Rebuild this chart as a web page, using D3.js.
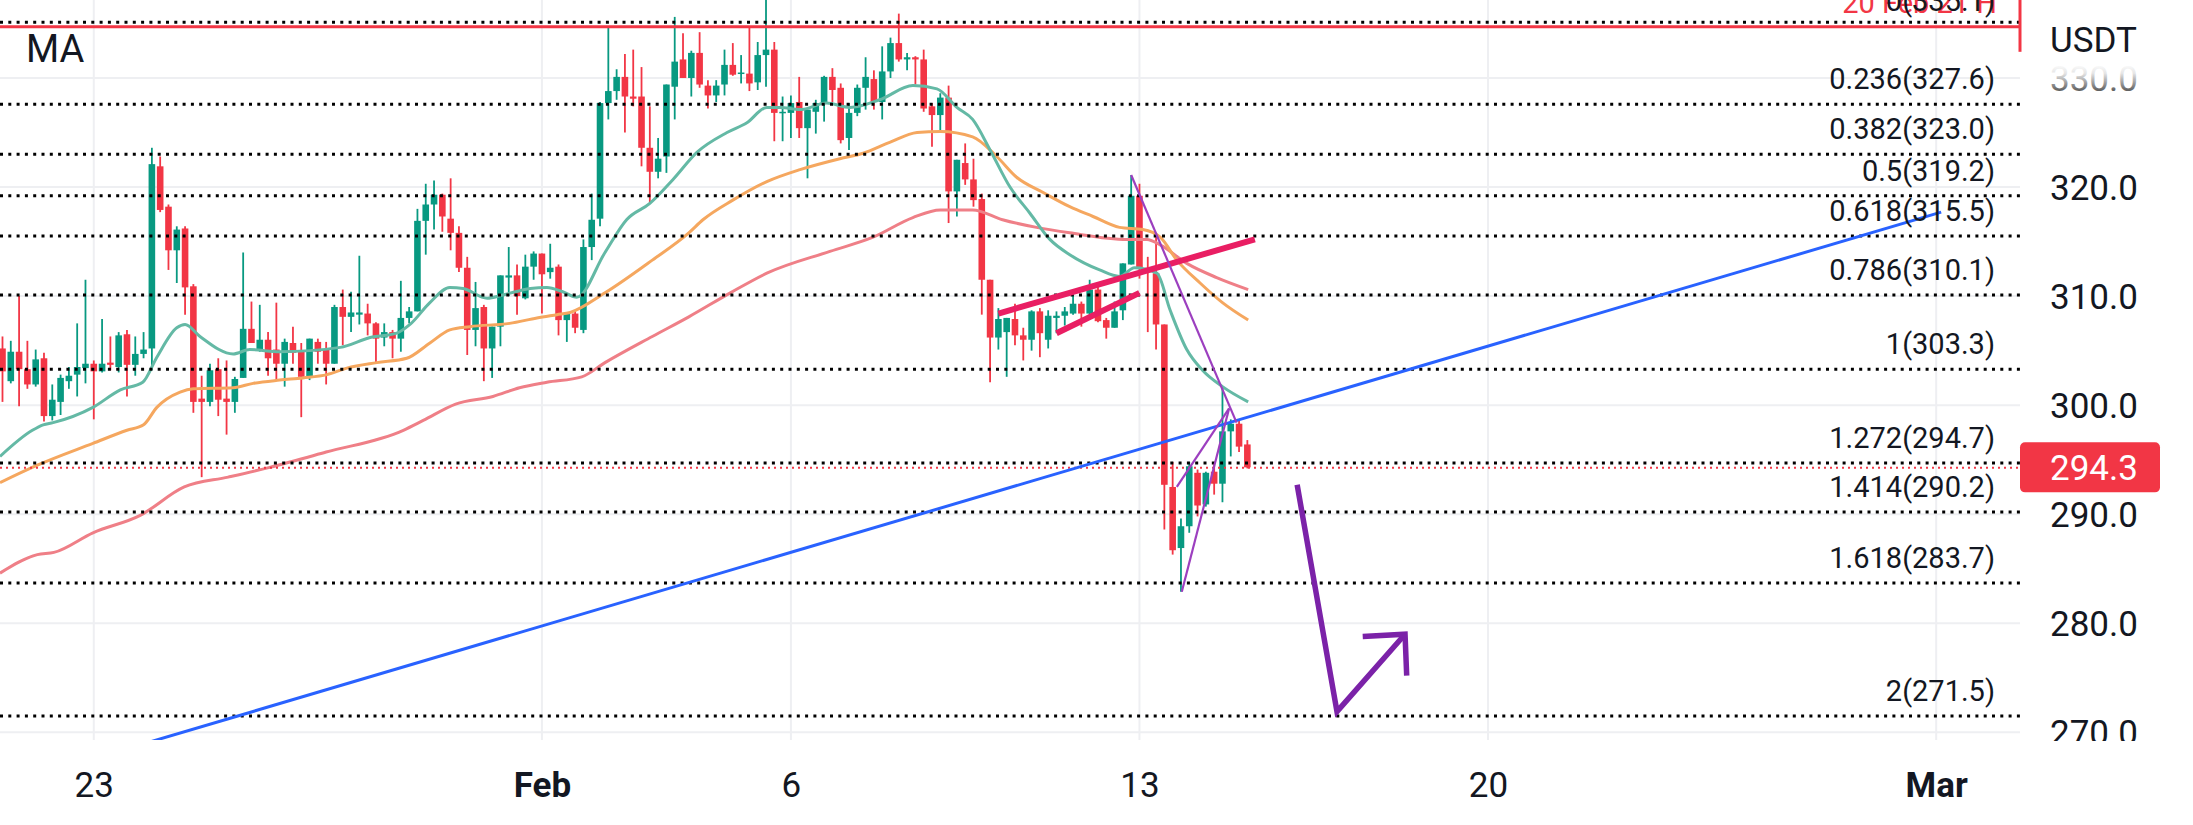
<!DOCTYPE html>
<meta charset="utf-8">
<style>
body { margin: 0; background: #fff; }
svg { display: block; font-family: Roboto, "Noto Sans", sans-serif; }
</style>
<svg id="chart" width="2193" height="825"></svg>
<script src="https://cdn.jsdelivr.net/npm/d3@7/dist/d3.min.js"></script>
<script>

// 4h candles, bar index 0 = 1 Feb 2023 00:00 UTC, first candle is bar -65
var firstBar = -65;
var opens  = [305.2,302.2,304.9,303.3,301.9,304.3,299.0,300.3,302.2,302.8,303.4,303.8,303.1,303.9,303.5,306.5,303.7,304.7,305.2,321.9,318.2,314.2,316.2,310.9,300.6,300.3,303.3,300.6,300.3,302.5,307.0,305.1,306.0,305.1,303.8,305.7,304.9,302.6,305.8,305.1,303.8,309.0,308.1,308.3,308.4,307.5,306.2,306.7,306.1,308.0,308.6,316.9,318.4,319.3,317.1,315.8,312.6,306.9,309.0,305.2,307.2,311.7,311.9,309.8,312.7,
              313.9,312.2,312.7,307.8,308.4,306.9,314.5,317.1,327.7,328.8,330.1,328.3,328.3,323.6,321.4,322.8,329.2,331.7,330.0,332.3,329.3,328.4,329.4,331.2,330.4,330.4,329.6,332.1,332.6,326.8,326.8,327.8,325.4,326.9,327.7,330.1,
              329.1,324.5,326.8,329.1,329.9,327.8,330.6,333.2,331.7,331.9,331.7,327.4,326.6,328.2,319.6,322.2,320.7,318.9,311.5,306.2,306.7,307.9,306.4,306.0,308.6,306.0,308.0,308.2,308.4,309.3,308.4,310.6,307.8,307.1,308.7,312.9,319.2,312.6,312.1,307.4,292.5,286.9,288.9,293.8,290.9,293.9,292.8,297.6,298.3,296.4];
var highs  = [306.3,305.9,310.0,305.9,305.1,304.8,301.9,302.8,303.5,307.5,311.5,304.1,307.9,306.3,306.7,306.9,306.3,306.7,323.6,322.8,318.4,316.4,316.4,311.1,302.7,303.8,304.3,304.1,302.6,314.0,309.5,309.2,306.7,309.4,306.1,307.2,305.7,306.1,306.1,305.8,309.2,310.6,310.4,313.7,309.3,307.6,307.5,306.9,311.4,309.0,318.0,320.3,320.6,319.4,320.8,316.4,313.6,311.3,309.2,307.2,311.9,314.5,312.9,313.8,314.1,
              313.9,314.8,312.9,308.4,308.7,315.2,319.4,327.8,334.6,330.8,332.2,332.6,331.0,327.4,324.5,329.4,335.6,334.1,332.5,334.2,329.8,329.8,332.6,333.2,332.1,334.6,333.3,338.0,333.3,328.3,328.4,330.1,327.1,328.0,330.2,330.9,
              329.5,327.7,329.4,331.9,330.7,332.9,333.7,335.9,332.3,332.0,332.6,327.7,328.6,329.3,322.5,324.0,322.6,319.4,311.5,308.9,308.0,309.3,307.1,308.7,308.9,308.7,308.6,309.0,310.3,309.5,311.5,310.9,308.0,309.5,313.0,321.1,320.3,313.6,315.4,307.4,294.8,289.6,294.8,294.1,293.9,294.8,301.7,298.7,298.7,296.8];
var lows   = [300.3,302.0,299.9,301.5,301.7,298.5,298.6,299.1,301.5,300.8,302.0,298.7,303.0,303.2,303.0,300.8,302.7,304.3,303.2,317.7,312.4,311.2,308.3,299.3,293.4,299.9,299.0,297.3,299.3,302.5,305.7,304.9,302.7,302.3,301.7,303.8,298.9,302.3,303.8,301.9,303.8,305.5,306.7,307.4,306.4,303.8,305.4,304.3,304.9,307.5,308.6,313.8,316.1,315.9,314.2,312.2,304.6,305.4,302.2,302.5,305.4,310.0,308.3,309.7,311.5,
              308.4,311.6,306.4,305.8,306.6,306.6,313.3,316.4,326.2,328.0,325.0,327.4,321.9,318.5,320.8,321.3,326.2,330.0,328.3,329.1,327.2,327.8,328.4,330.2,329.5,328.8,328.9,329.2,324.2,324.2,324.5,324.5,320.8,324.9,326.0,327.8,
              324.0,323.4,326.5,327.1,327.1,326.2,330.0,331.5,330.7,329.4,326.9,323.7,325.2,316.7,317.3,320.2,318.2,308.3,302.1,305.1,302.6,305.5,304.1,305.0,304.4,305.2,306.6,307.3,308.3,307.2,308.1,307.6,306.1,307.1,307.8,312.9,311.6,306.7,305.1,288.6,286.3,282.9,288.3,289.8,290.7,291.8,291.1,295.3,295.7,294.2];
var closes = [303.1,304.9,303.3,301.9,304.2,299.0,300.5,302.5,302.7,303.5,303.8,303.1,303.8,303.7,306.4,303.7,304.7,305.1,322.1,317.9,314.2,316.1,310.8,300.3,300.3,303.2,300.5,300.3,302.4,307.0,305.7,306.0,304.3,303.8,305.8,304.8,302.6,306.1,304.9,303.8,309.0,308.1,308.5,308.5,307.5,306.1,306.7,306.1,308.0,308.6,316.9,318.4,319.3,317.3,315.8,312.6,306.9,308.9,305.2,307.2,311.9,311.9,310.0,312.7,313.9,
              312.0,312.6,307.8,308.4,307.1,314.5,317.0,327.7,328.8,330.1,328.3,328.1,323.6,321.4,322.6,329.4,331.5,330.0,332.3,329.4,328.4,329.3,331.2,330.3,330.5,329.5,332.1,332.6,326.8,326.9,327.7,325.4,327.1,327.7,330.1,328.9,
              324.3,326.8,329.1,330.1,327.8,330.6,333.2,331.7,331.9,331.7,327.2,326.6,328.2,319.6,322.5,320.7,318.8,311.5,306.2,307.9,308.0,306.4,306.0,308.6,306.6,308.2,308.2,308.6,309.3,308.4,310.6,307.7,307.1,308.6,313.0,319.2,312.6,312.2,307.4,292.7,286.7,288.9,294.4,290.8,293.8,292.8,297.6,298.3,296.2,294.3];

// moving averages as [bar index, price]
var maFastBars = [-65.3,-61.4,-60.1,-58.9,-54.1,-50.8,-48.1,-46.4,-44.0,-43.0,-41.2,-37.2,-35.2,-31.6,-24.3,-20.7,-17.5,-15.9,-13.5,-11.1,-9.5,-6.6,-4.7,-1.4,0.6,2.5,4.2,7.6,10.2,13.0,15.8,18.7,22.3,24.7,27.1,28.7,31.1,34.3,37.1,40.7,44.7,47.6,50.0,51.9,54.0,56.4,58.8,61.2,63.6,67.2,69.6,71.4,74.1,75.7,77.7,79.6,82.0,85.1];
var maFastVals = [295.3,297.7,298.2,298.4,299.8,301.4,302.1,304.4,307.1,307.4,306.3,304.7,305.1,304.9,305.3,306.2,306.6,307.4,309.4,310.8,310.7,309.8,310.1,310.7,310.8,310.4,309.9,314.0,317.0,318.5,320.7,323.2,325.0,325.9,327.3,327.3,327.1,327.7,327.3,328.0,329.3,329.0,327.3,326.2,323.4,320.0,317.6,315.2,313.8,312.4,311.8,312.6,312.1,308.7,305.1,303.2,301.7,300.3];
var maMidBars = [-65.3,-60.8,-54.1,-50.0,-48.0,-46.4,-43.6,-42.0,-37.2,-34.8,-31.6,-28.8,-25.9,-23.5,-19.9,-16.3,-13.5,-11.1,-8.7,-3.9,-0.6,1.8,3.4,7.6,13.3,17.7,19.4,23.0,27.1,31.1,35.9,38.7,41.9,45.2,48.0,51.9,54.8,57.2,60.4,63.6,66.4,69.6,72.4,74.5,76.5,79.3,82.0,85.1];
var maMidVals = [292.9,294.5,296.5,297.7,298.2,299.8,301.2,301.5,301.6,302.0,302.3,302.5,302.8,303.4,303.9,304.3,305.7,306.9,307.2,307.5,308.0,308.3,308.5,310.3,313.3,315.8,317.0,318.8,320.5,321.6,322.6,323.1,324.1,325.0,325.1,324.6,322.8,320.9,319.5,318.2,317.3,316.3,316.1,315.4,313.3,311.2,309.4,307.8];
var maSlowBars = [-65.3,-60.8,-58.8,-54.1,-48.4,-43.1,-37.8,-32.8,-26.0,-16.7,-14.3,-10.4,-5.9,-2.7,0.6,4.8,7.6,13.3,17.7,22.7,27.1,34.7,39.9,44.7,48.0,51.9,55.5,59.6,63.6,70.5,72.9,74.5,77.7,81.3,85.1];
var maSlowVals = [284.6,286.3,286.5,288.3,289.9,292.5,293.4,294.3,295.7,297.7,298.6,300.1,300.8,301.6,302.1,302.6,303.9,306.3,308.1,310.3,312.1,314.1,315.4,317.2,317.9,317.9,317.0,316.3,315.8,315.2,315.2,314.7,313.0,311.7,310.6];

// fibonacci levels
var fibRatios = ["0","0.236","0.382","0.5","0.618","0.786","1","1.272","1.414","1.618","2"];
var fibPrices = [335.1,327.6,323.0,319.2,315.5,310.1,303.3,294.7,290.2,283.7,271.5];

// drawings: [bar, price] end points
var trendBars = [-50, 168.6],  trendPrices = [268.5, 317.7];
var chanUpBars = [55.0, 85.9], chanUpPrices = [308.4, 315.2];
var chanLoBars = [62.0, 72.0], chanLoPrices = [306.6, 310.3];
var wedge1Bars = [71.0, 83.7], wedge1Prices = [321.1, 298.4];
var wedge2Bars = [76.5, 82.8], wedge2Prices = [292.5, 299.7];
var wedge3Bars = [77.1, 82.8], wedge3Prices = [282.9, 299.7];
var arrowBars = [91.0, 95.8, 104.0], arrowPrices = [292.7, 271.9, 279.0];
var headBars  = [98.9, 104.0, 104.2], headPrices = [278.8, 279.0, 275.2];
var rangeHigh = 334.7;
var lastPrice = 294.3;

var yTicks = [270, 280, 290, 300, 310, 320, 330];
var xTicks = ["2023-01-23", "2023-02-01", "2023-02-06", "2023-02-13", "2023-02-20", "2023-03-01"];

var svg = d3.select("#chart");
var plotW = 2020, plotH = 740;
var ink = "#131722";
var up = "#089981", down = "#f23645";

var t0 = Date.UTC(2023, 1, 1);
var barMs = 4 * 3600 * 1000;
function barTime(b) { return new Date(t0 + b * barMs); }

var x = d3.scaleUtc()
	.domain([barTime(-65.3), barTime(178.1)])
	.range([0, plotW]);
var y = d3.scaleLinear()
	.domain([269.3, 337.15])
	.range([plotH, 0]);
function bx(b) { return x(barTime(b)); }

var defs = svg.append("defs");
defs.append("clipPath").attr("id", "plotclip")
	.append("rect").attr("width", plotW).attr("height", plotH);
// axis group is translated by plotW, so this rect is in its local space
defs.append("clipPath").attr("id", "axisclip")
	.append("rect").attr("x", 0).attr("width", 200).attr("height", plotH + 1);
// tick text sits in a group translated to its tick, so the fade is local too
var grad = defs.append("linearGradient").attr("id", "fade")
	.attr("gradientUnits", "userSpaceOnUse").attr("x1", 0).attr("x2", 0).attr("y1", -15).attr("y2", 13);
grad.append("stop").attr("offset", 0).attr("stop-color", "#ffffff");
grad.append("stop").attr("offset", 0.35).attr("stop-color", "#e6e6e6");
grad.append("stop").attr("offset", 1).attr("stop-color", "#5a5a5a");

// grid
var grid = svg.append("g");
grid.selectAll(".hg").data(yTicks).enter().append("line")
	.attr("x1", 0).attr("x2", plotW)
	.attr("y1", function(d){ return y(d); }).attr("y2", function(d){ return y(d); })
	.attr("stroke", "#eeeff2").attr("stroke-width", 2);
grid.selectAll(".vg").data(xTicks).enter().append("line")
	.attr("x1", function(d){ return x(new Date(d)); }).attr("x2", function(d){ return x(new Date(d)); })
	.attr("y1", 0).attr("y2", plotH)
	.attr("stroke", "#eeeff2").attr("stroke-width", 2);

var plot = svg.append("g").attr("clip-path", "url(#plotclip)");

// candles
var bars = d3.range(opens.length);
var candle = plot.selectAll(".c").data(bars).enter().append("g");
candle.append("line")
	.attr("x1", function(k){ return bx(firstBar + k); })
	.attr("x2", function(k){ return bx(firstBar + k); })
	.attr("y1", function(k){ return y(highs[k]); })
	.attr("y2", function(k){ return y(lows[k]); })
	.attr("stroke", function(k){ return closes[k] >= opens[k] ? up : down; })
	.attr("stroke-width", 1.8);
candle.append("rect")
	.attr("x", function(k){ return bx(firstBar + k) - 3.3; })
	.attr("width", 6.6)
	.attr("y", function(k){ return y(Math.max(opens[k], closes[k])); })
	.attr("height", function(k){ return Math.max(1.5, Math.abs(y(opens[k]) - y(closes[k]))); })
	.attr("fill", function(k){ return closes[k] >= opens[k] ? up : down; });

// moving averages
function maLine(bs, vs, color) {
	var line = d3.line()
		.x(function(d){ return bx(d); })
		.y(function(d, i){ return y(vs[i]); })
		.curve(d3.curveMonotoneX);
	plot.append("path").attr("d", line(bs))
		.attr("fill", "none").attr("stroke", color).attr("stroke-width", 3);
}
maLine(maSlowBars, maSlowVals, "#ef7f87");
maLine(maMidBars, maMidVals, "#f5a75f");
maLine(maFastBars, maFastVals, "#64b9a5");

// fib levels
plot.selectAll(".fib").data(fibPrices).enter().append("line")
	.attr("x1", 0).attr("x2", plotW)
	.attr("y1", function(d){ return y(d); }).attr("y2", function(d){ return y(d); })
	.attr("stroke", "#000").attr("stroke-width", 3).attr("stroke-dasharray", "3 5.3");

// current price line
plot.append("line")
	.attr("x1", 0).attr("x2", plotW)
	.attr("y1", y(lastPrice) + 0.5).attr("y2", y(lastPrice) + 0.5)
	.attr("stroke", down).attr("stroke-width", 2).attr("stroke-dasharray", "2 4");

// red range line at top
plot.append("line")
	.attr("x1", 0).attr("x2", plotW)
	.attr("y1", y(rangeHigh)).attr("y2", y(rangeHigh))
	.attr("stroke", "#f23645").attr("stroke-width", 3);
svg.append("line")
	.attr("x1", plotW).attr("x2", plotW)
	.attr("y1", 0).attr("y2", y(332.4))
	.attr("stroke", "#f23645").attr("stroke-width", 3);

function seg(bs, ps, color, w) {
	var line = d3.line()
		.x(function(d){ return bx(d); })
		.y(function(d, i){ return y(ps[i]); });
	return plot.append("path").attr("d", line(bs))
		.attr("fill", "none").attr("stroke", color).attr("stroke-width", w)
		.attr("stroke-linejoin", "miter");
}
seg(trendBars, trendPrices, "#2962ff", 3);
seg(chanUpBars, chanUpPrices, "#e91e63", 6);
seg(chanLoBars, chanLoPrices, "#e91e63", 6);
seg(wedge1Bars, wedge1Prices, "#9c3fbf", 2.2);
seg(wedge2Bars, wedge2Prices, "#9c3fbf", 2.2);
seg(wedge3Bars, wedge3Prices, "#9c3fbf", 2.2);
seg(arrowBars, arrowPrices, "#7b22a8", 5.5);
seg(headBars, headPrices, "#7b22a8", 5.5);

// range label (red) under the fib 0 label, both cut by the top edge as in the source
svg.append("text")
	.attr("x", 1997).attr("y", 13)
	.attr("font-size", 29).attr("fill", "#f23645").attr("text-anchor", "end")
	.text("20 Feb 21 H");

// fib labels
var fibText = svg.append("g")
	.attr("font-size", 29).attr("fill", ink).attr("text-anchor", "end");
fibText.selectAll("text").data(fibPrices).enter().append("text")
	.attr("x", 1995)
	.attr("y", function(d, i){ return i == 0 ? 11 : y(d) - 15; })
	.text(function(d, i){ return fibRatios[i] + "(" + d.toFixed(1) + ")"; });

// legend
svg.append("text").attr("x", 26).attr("y", 62)
	.attr("font-size", 38).attr("fill", ink).text("MA");

// price axis
var yAxis = d3.axisRight(y).tickValues(yTicks).tickFormat(d3.format(".1f"))
	.tickSize(0).tickPadding(30);
var ya = svg.append("g").attr("transform", "translate(" + plotW + ",0)")
	.attr("clip-path", "url(#axisclip)")
	.call(yAxis);
ya.select(".domain").remove();
ya.selectAll("text")
	.attr("font-family", "Roboto").attr("font-size", 35)
	.attr("dy", "0.36em")
	.attr("fill", function(d){ return d == 330 ? "url(#fade)" : ink; });

svg.append("text").attr("x", 2050).attr("y", 52)
	.attr("font-size", 35).attr("fill", ink).text("USDT");

// last price tag
svg.append("rect")
	.attr("x", plotW).attr("y", y(lastPrice) - 25)
	.attr("width", 140).attr("height", 50).attr("rx", 5)
	.attr("fill", down);
svg.append("text")
	.attr("x", 2050).attr("y", y(lastPrice)).attr("dy", "0.36em")
	.attr("font-size", 35).attr("fill", "#fff")
	.text(d3.format(".1f")(lastPrice));

// time axis
var xAxis = d3.axisBottom(x)
	.tickValues(xTicks.map(function(d){ return new Date(d); }))
	.tickFormat(function(d){ return d.getUTCDate() == 1 ? d3.utcFormat("%b")(d) : d.getUTCDate(); })
	.tickSize(0);
var xa = svg.append("g").attr("transform", "translate(0," + plotH + ")").call(xAxis);
xa.select(".domain").remove();
xa.selectAll("text")
	.attr("font-family", "Roboto").attr("font-size", 35).attr("fill", ink)
	.attr("y", 57).attr("dy", null)
	.attr("font-weight", function(d){ return d.getUTCDate() == 1 ? 700 : 400; });

</script>
